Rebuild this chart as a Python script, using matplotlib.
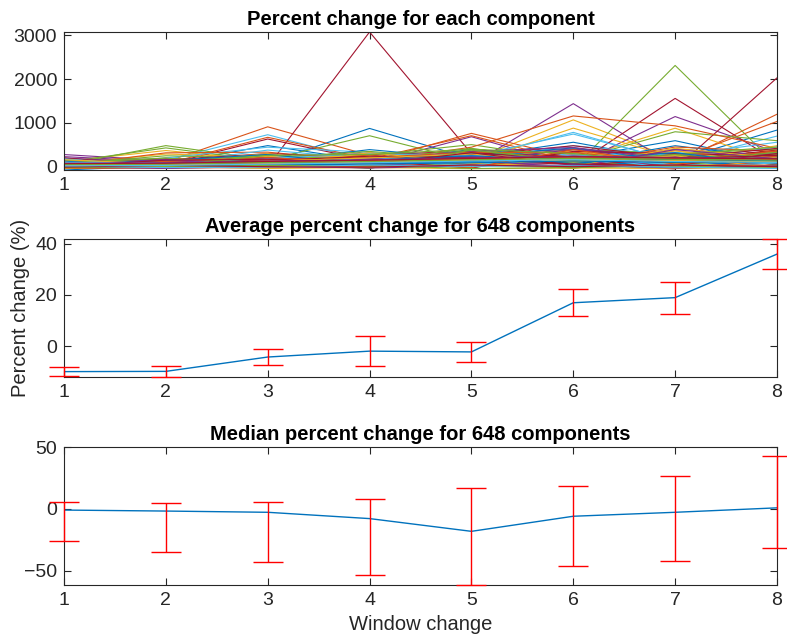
import matplotlib
matplotlib.use("Agg")
import matplotlib.pyplot as plt
import numpy as np

plt.rcParams['font.family'] = ['Liberation Sans', 'DejaVu Sans']

windows = [1, 2, 3, 4, 5, 6, 7, 8]
n_components = 648

# Per-component percent change, listed in groups of seven rows
component_change = [
    # group 1
    [40, 30, 90, 875, 180, 70, 120, 150],
    [60, 110, 912, 260, 90, 180, 130, 210],
    [30, 200, 120, 60, 150, 1070, 180, 90],
    [230, 120, 80, 150, 50, 1441, 20, 160],
    [20, 80, 40, 90, 110, -30, 2314, 30],
    [90, 150, 731, 120, 260, 130, 90, 240],
    [70, 60, 0, 3078, 300, 110, 60, 150],
    # group 2
    [110, 60, 482, 130, 220, 559, 140, 837],
    [50, 90, 150, 110, 762, 200, 80, 1199],
    [120, 370, 140, 90, 230, 160, 880, 110],
    [160, 60, 120, 70, 685, 30, 1146, 330],
    [40, 482, 160, 708, 120, 90, 130, 140],
    [80, 120, 200, 150, 180, 785, 110, 700],
    [100, 50, 633, 140, 80, 10, 1561, 120],
    # group 3
    [30, 100, 210, 300, 140, 200, 595, 90],
    [140, 70, 672, 180, 708, 120, 160, 1034],
    [60, 290, 220, 150, 90, 882, 200, 260],
    [278, 140, 90, 200, 120, 220, 80, 110],
    [100, 430, 130, 260, 505, 150, 799, 595],
    [50, 200, 446, 330, 160, 482, 250, 560],
    [150, 110, 180, 80, 120, 60, -50, 2030],
    # group 4
    [90, 40, 120, 391, 180, 90, 480, 200],
    [30, 317, 333, 120, 446, 1160, 934, 420],
    [170, 130, 260, 110, 300, 180, 120, 480],
    [200, 90, 160, 100, 280, 140, 230, 90],
    [60, 250, 200, 350, 170, 400, 300, 400],
    [120, 70, 380, 180, 240, 746, 130, 450],
    [40, 150, 300, 210, 260, 480, 200, 350],
    # group 5
    [10, -20, 60, 120, 300, 150, 40, 80],
    [150, 80, 20, -10, 90, 330, 200, 60],
    [-30, 40, 110, 230, 60, 20, 360, 150],
    [60, 180, 30, 90, 250, 410, 100, 300],
    [100, -10, 150, 40, 170, 90, 60, 20],
    [-10, 60, 240, 170, -20, 260, 310, 120],
    [80, 120, -30, 280, 350, 40, 150, 380],
    # group 6
    [180, 30, 90, 60, 400, 200, -20, 140],
    [20, 150, 190, 310, 120, -30, 220, 90],
    [140, 90, 300, 20, 210, 360, 80, -20],
    [-40, 20, 80, 150, 30, 120, 400, 250],
    [70, 200, -10, 100, 380, 70, 170, 330],
    [120, -30, 170, 250, 90, 300, 20, 200],
    [30, 100, 220, -20, 330, 150, 280, 60],
    # group 7
    [-20, 70, 130, 190, 240, 430, 130, 10],
    [90, 30, 40, 80, 200, 60, 450, 350],
    [50, 140, 180, 260, -10, 210, 60, 170],
    [130, -40, 100, 30, 150, 390, 240, -30],
    [10, 110, 270, 140, 420, 100, 10, 280],
    [170, 60, 10, 210, 60, -20, 330, 100],
    [60, 180, 150, -30, 280, 250, 190, 420],
    # group 8
    [40, 0, 200, 100, 310, 50, 100, 230],
    [110, 120, 60, 270, 40, 280, -30, 130],
    [-30, 30, 240, 60, 190, 150, 370, 40],
    [80, 160, -20, 180, 350, 440, 160, 310],
    [150, 40, 120, -10, 100, -40, 260, 190],
    [0, 90, 190, 300, 260, 190, 50, -10],
    [200, 20, 70, 130, -30, 350, 300, 260],
    # group 9
    [70, 140, 280, 50, 160, 80, 210, 80],
    [-10, 50, 160, 210, 330, 320, 110, 360],
    [120, -20, 20, 320, 80, 0, 420, 200],
    [30, 100, 200, 110, 230, 230, -10, 20],
    [90, 190, 90, -40, 380, 130, 280, 450],
    [180, 10, -40, 160, 30, 270, 160, 110],
    [-40, 80, 140, 240, 210, 60, 30, 300],
    # group 10
    [130, -30, 70, 150, 250, 170, 320, 40],
    [20, 120, 210, 80, -20, 390, 60, 240],
    [160, 60, 130, 200, 290, 110, 250, -40],
    [-20, 170, 40, 20, 140, -10, 390, 180],
    [50, 20, 260, 280, 400, 300, 90, 330],
    [100, 90, 110, 120, 100, 240, -40, 90],
    [10, 150, 170, 60, 320, 30, 180, 260],
    # group 11
    [-75, 20, 40, 60, 90, 130, 100, 120],
    [-40, -30, -20, 10, 30, -10, 20, 40],
    [-30, 10, -40, -20, -45, -30, -40, -20],
    [0, -40, 10, -30, 20, 40, -30, 10],
    [-20, 0, 30, 20, -40, -20, 10, -30],
    [20, -20, -10, 40, 10, 20, -10, -40],
    [-10, 30, 0, -10, 40, 0, 40, 0],
    # group 12
    [40, 50, 90, 80, 120, 200, 160, 130],
    [60, 70, 110, 140, 180, 220, 190, 170],
    [30, 40, 70, 100, 150, 170, 140, 110],
    [80, 90, 130, 160, 200, 240, 210, 190],
    [50, 60, 100, 120, 160, 190, 170, 150],
    [20, 30, 60, 90, 130, 160, 120, 100],
    [70, 80, 120, 150, 190, 230, 200, 180],
]

# Mean percent change and its error
mean_change = [-10.0, -9.9, -4.3, -2.0, -2.3, 16.9, 18.9, 35.9]
mean_err = [1.7, 2.2, 3.05, 5.8, 3.9, 5.3, 6.2, 5.9]

# Median percent change with lower / upper error lengths
median_change = [-1.0, -1.8, -2.8, -7.9, -18.2, -6.0, -2.8, 0.8]
median_lo = [25.4, 33.3, 40.3, 46.0, 43.0, 39.9, 39.1, 32.3]
median_hi = [6.9, 6.7, 8.7, 15.7, 34.9, 24.7, 29.3, 41.7]

matlab_colors = ['#0072BD', '#D95319', '#EDB120', '#7E2F8E',
                 '#77AC30', '#4DBEEE', '#A2142F']
ink = '#262626'
W, H = 787, 641

fig = plt.figure(figsize=(W / 100, H / 100), dpi=100)


def panel(top_px, bottom_px):
    left, right = 64, 777
    return fig.add_axes([left / W, 1 - bottom_px / H,
                         (right - left) / W, (bottom_px - top_px) / H])


def style(ax, title):
    ax.set_xlim(1, 8)
    ax.set_xticks(windows)
    ax.tick_params(direction='in', top=True, right=True, length=5,
                   width=0.8, colors=ink, labelsize=14, pad=5)
    for sp in ax.spines.values():
        sp.set_color(ink)
        sp.set_linewidth(0.8)
    ax.set_title(title, fontsize=14.5, fontweight='bold', color='black', pad=5)


def draw_errorbars(ax, y, err):
    _, caps, bars = ax.errorbar(windows, y, yerr=err, fmt='none',
                                ecolor='#FF0000', elinewidth=1.0, capsize=11,
                                capthick=1.0, zorder=3)
    for artist in list(caps) + list(bars):
        artist.set_clip_on(False)


# Panel 1: every component
ax1 = panel(32, 170)
ax1.set_prop_cycle(color=matlab_colors)
for row in component_change:
    ax1.plot(windows, row, lw=0.8)
ax1.set_ylim(-75, 3078)
ax1.set_yticks([0, 1000, 2000, 3000])
style(ax1, 'Percent change for each component')

# Panel 2: mean with error bars
ax2 = panel(239, 377)
ax2.plot(windows, mean_change, color='#0072BD', lw=1.0, zorder=2)
draw_errorbars(ax2, mean_change, mean_err)
ax2.set_ylim(min(m - e for m, e in zip(mean_change, mean_err)),
             max(m + e for m, e in zip(mean_change, mean_err)))
ax2.set_yticks([0, 20, 40])
style(ax2, f'Average percent change for {n_components} components')
ax2.set_ylabel('Percent change (%)', fontsize=14.5, color=ink, labelpad=4)

# Panel 3: median with error bars
ax3 = panel(447, 585)
ax3.plot(windows, median_change, color='#0072BD', lw=1.0, zorder=2)
draw_errorbars(ax3, median_change, [median_lo, median_hi])
ax3.set_ylim(-61.6, 50)
ax3.set_yticks([-50, 0, 50])
style(ax3, f'Median percent change for {n_components} components')
ax3.set_xlabel('Window change', fontsize=14.5, color=ink, labelpad=4)

fig.savefig('out.png', dpi=100)
